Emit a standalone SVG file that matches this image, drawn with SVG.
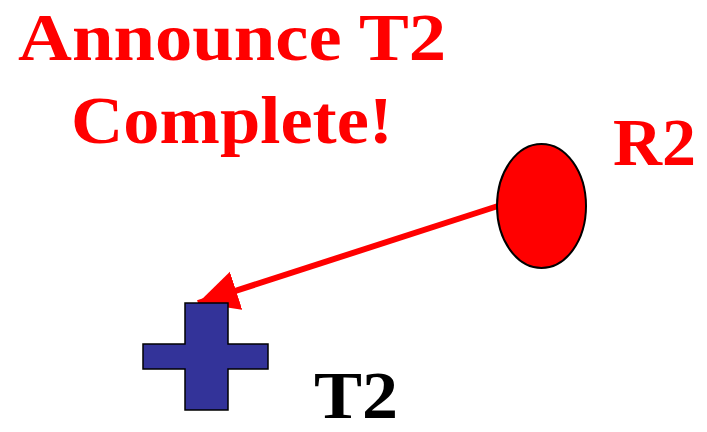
<svg xmlns="http://www.w3.org/2000/svg" width="707" height="432" viewBox="0 0 707 432">
<style>
.t{font-family:"Liberation Serif","Times New Roman",serif;font-weight:bold;font-size:68px}
.red{fill:#ff0000}
</style>
<defs>
<marker id="ah" markerUnits="userSpaceOnUse" markerWidth="50" markerHeight="50" refX="40" refY="20" orient="auto">
<path d="M0,0 L40,20 L0,40 Z" fill="#ff0000"/>
</marker>
</defs>
<rect width="707" height="432" fill="#ffffff"/>
<g id="title">
<text class="t red" x="232" y="60" text-anchor="middle" textLength="428" lengthAdjust="spacingAndGlyphs">Announce T2</text>
<text class="t red" x="232" y="143" text-anchor="middle" textLength="322" lengthAdjust="spacingAndGlyphs">Complete!</text>
</g>
<g id="connectors">
<line x1="498" y1="206" x2="198" y2="303" stroke="#ff0000" stroke-width="6" marker-end="url(#ah)"/>
</g>
<g id="R2">
<ellipse cx="541.5" cy="206" rx="44.5" ry="62" fill="#ff0000" stroke="#000000" stroke-width="2"/>
<text class="t red" x="613" y="165" textLength="83" lengthAdjust="spacingAndGlyphs">R2</text>
</g>
<g id="T2">
<path d="M185,303 H228 V344 H268 V369 H228 V410 H185 V369 H143 V344 H185 Z" fill="#333399" stroke="#000000" stroke-width="1.5"/>
<text class="t" x="314" y="418" fill="#000000" textLength="84" lengthAdjust="spacingAndGlyphs">T2</text>
</g>
</svg>
